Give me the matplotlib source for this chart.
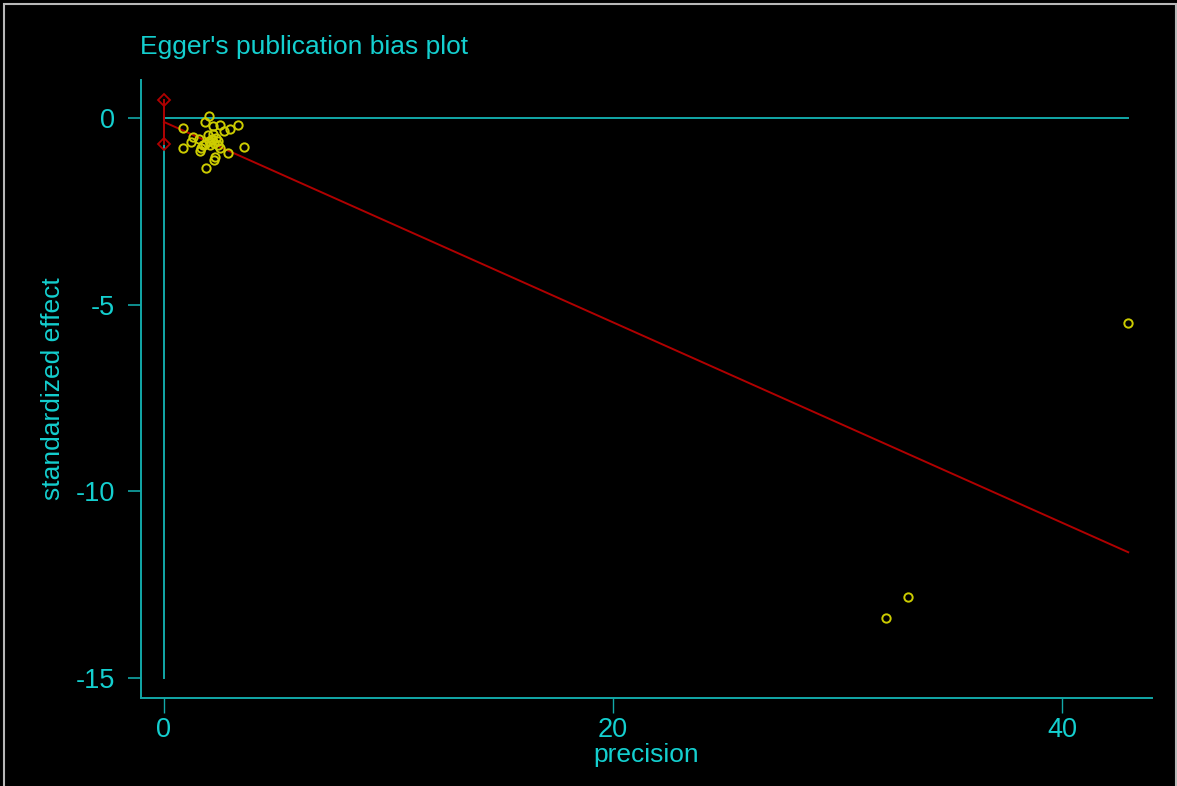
import matplotlib.pyplot as plt
from matplotlib.patches import Rectangle
import numpy as np

plt.rcParams["font.family"] = ["Liberation Sans", "DejaVu Sans"]
plt.rcParams["axes.unicode_minus"] = False

CYAN_TEXT = "#14CFCF"
CYAN_LINE = "#12A8A8"
RED = "#B00000"
YELLOW = "#CCCC00"

# study precision (1/se) and standardized effect (effect/se)
precision = [2.00, 1.83, 2.17, 2.51, 2.94, 3.28, 2.69, 0.86, 1.31, 1.56,
             1.20, 1.95, 2.20, 2.32, 2.12, 1.83, 2.42, 2.84, 0.86, 1.65,
             1.60, 2.27, 2.23, 1.87, 3.58, 2.49, 2.05, 2.00, 1.74, 2.23,
             2.15, 2.40, 32.16, 33.14, 42.94]
std_effect = [0.05, -0.10, -0.21, -0.17, -0.28, -0.19, -0.34, -0.27, -0.50, -0.57,
              -0.65, -0.46, -0.41, -0.52, -0.59, -0.68, -0.72, -0.92, -0.80, -0.81,
              -0.88, -1.05, -1.13, -1.33, -0.77, -0.81, -0.72, -0.62, -0.71, -0.67,
              -0.55, -0.62, -13.39, -12.83, -5.49]

# Egger regression: intercept (bias) with its 95% CI, and slope
intercept = -0.10
intercept_ci = (-0.68, 0.48)
slope = -0.2686

fig = plt.figure(figsize=(11.77, 7.86), dpi=100, facecolor="black")
ax = fig.add_axes([0.1198, 0.112, 0.859, 0.786], facecolor="black")

xmax = max(precision)
ax.plot([0, xmax], [0, 0], color=CYAN_LINE, lw=1.4, zorder=1)
ax.plot([0, 0], [0, -15], color=CYAN_LINE, lw=1.4, zorder=1)

fit_x = np.array([0, xmax])
ax.plot(fit_x, intercept + slope * fit_x, color=RED, lw=1.4, zorder=2)

ax.plot([0, 0], intercept_ci, color=RED, lw=1.4, zorder=3)
ax.plot([0, 0], intercept_ci, ls="none", marker="D", ms=6, mfc="none",
        mec=RED, mew=1.3, zorder=3)

ax.plot(precision, std_effect, ls="none", marker="o", ms=6, mfc="none",
        mec=YELLOW, mew=1.4, zorder=4)

ax.set_xlim(-1.02, 44.0)
ax.set_ylim(-15.54, 1.02)
ax.set_xticks([0, 20, 40])
ax.set_yticks([0, -5, -10, -15])

for side in ("top", "right"):
    ax.spines[side].set_visible(False)
for side in ("left", "bottom"):
    ax.spines[side].set_color(CYAN_LINE)
    ax.spines[side].set_linewidth(1.4)

ax.tick_params(axis="y", direction="out", length=9.5, width=1.2, color=CYAN_LINE,
               labelcolor=CYAN_TEXT, labelsize=19.5, pad=9)
ax.tick_params(axis="x", direction="out", length=11, width=1.0, color=CYAN_LINE,
               labelcolor=CYAN_TEXT, labelsize=19.5, pad=3)

ax.set_xlabel("precision", color=CYAN_TEXT, fontsize=19, labelpad=0)
ax.set_ylabel("standardized effect", color=CYAN_TEXT, fontsize=19, labelpad=8)
fig.text(0.119, 0.94, "Egger's publication bias plot", color=CYAN_TEXT,
         fontsize=19, ha="left", va="center")

# thin grey window border
fig.patches.append(Rectangle((0.003, -0.01), 0.996, 1.005, transform=fig.transFigure,
                             fill=False, edgecolor="#B8B8B8", lw=1.5))

fig.savefig("out.png", dpi=100, facecolor="black")
